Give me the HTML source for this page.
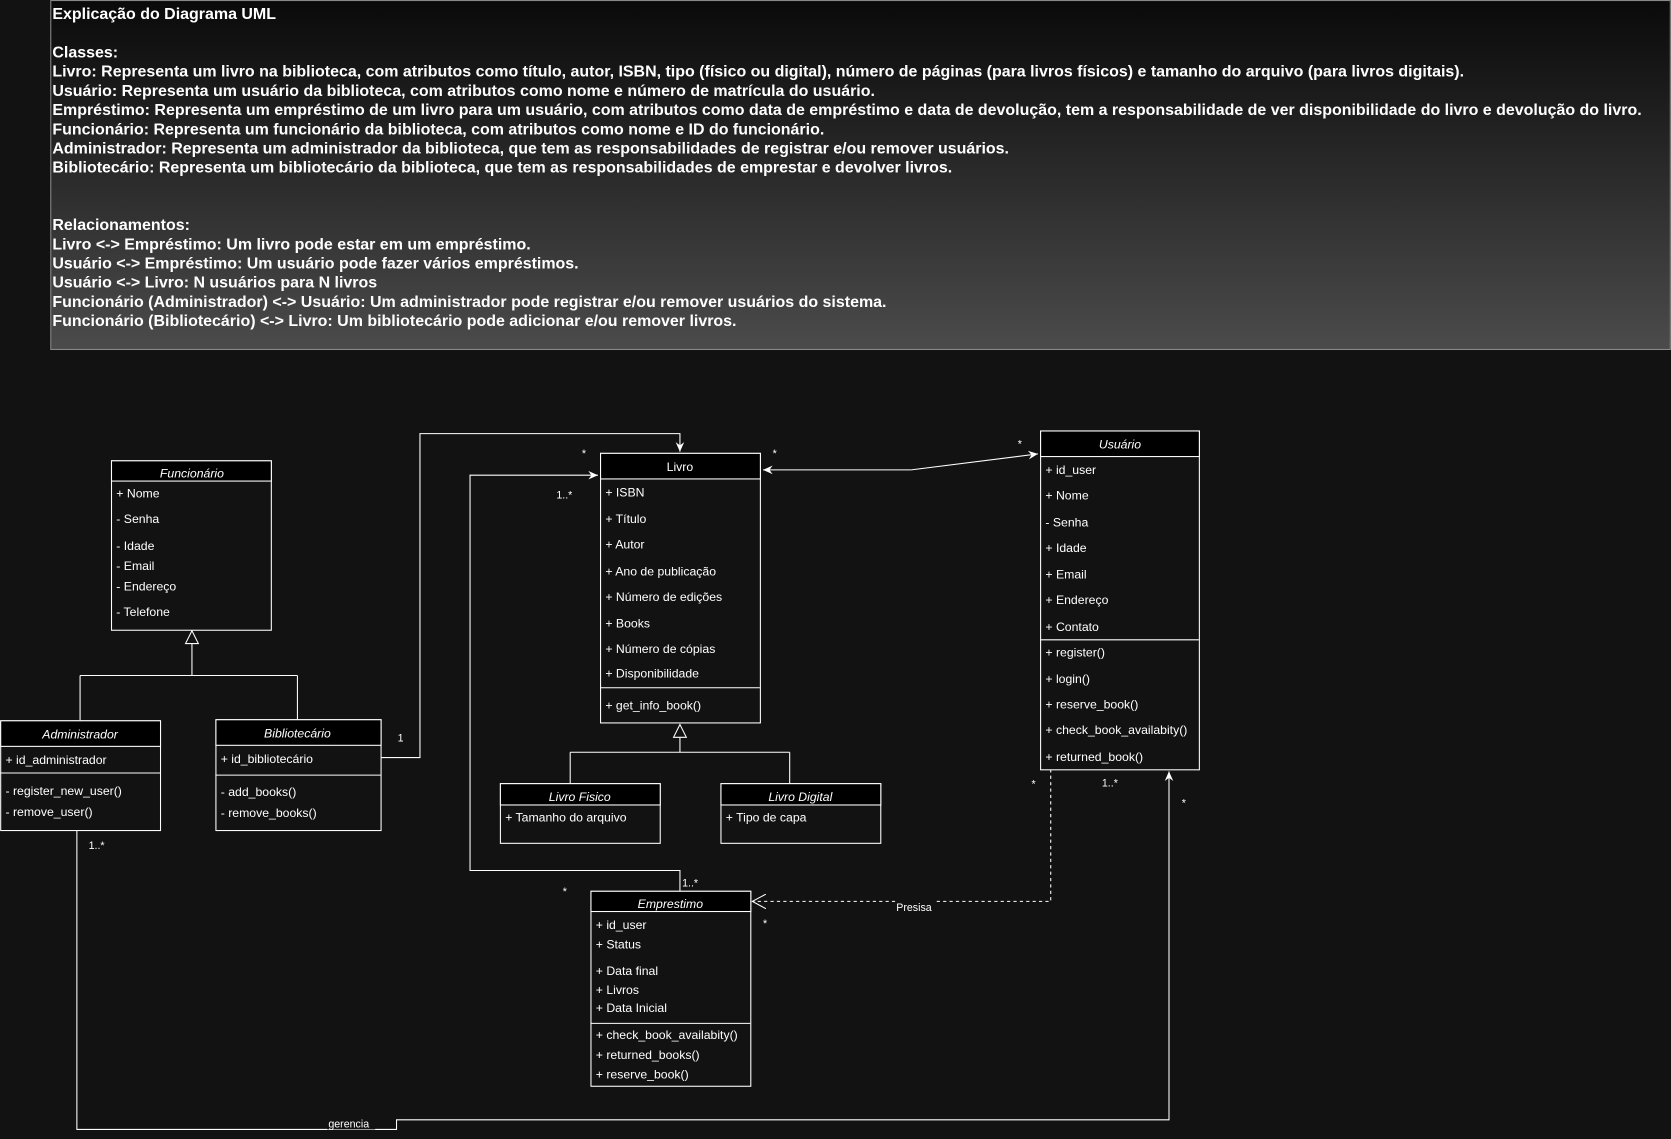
<!DOCTYPE html>
<html><head><meta charset="utf-8"><style>
html,body{margin:0;padding:0;background:#121212;}
svg{display:block}
text{font-family:"Liberation Sans",Arial,sans-serif;fill:#fff;}
.h{font-weight:bold;font-size:15px}
.i{font-size:11.5px}
.t{font-size:11.5px;text-anchor:middle}
.it{font-style:italic}
.s{font-size:10px}
</style></head><body>
<svg width="1671" height="1139" viewBox="0 0 1568 1069" xmlns="http://www.w3.org/2000/svg">
<defs>
<linearGradient id="g" x1="0" y1="0" x2="0" y2="1"><stop offset="0" stop-color="#0a0a0a"/><stop offset="1" stop-color="#4b4b4b"/></linearGradient>
<marker id="a" markerWidth="10" markerHeight="10" refX="9" refY="5" orient="auto" markerUnits="userSpaceOnUse"><path d="M0,1 L9,5 L0,9 L3,5 Z" fill="#fff"/></marker>
<marker id="o" markerWidth="14" markerHeight="14" refX="13" refY="7" orient="auto" markerUnits="userSpaceOnUse"><path d="M0,0 L13,7 L0,14" fill="none" stroke="#fff"/></marker>
</defs>
<rect width="1568" height="1069" fill="#121212"/>
<rect x="47.5" y="0.5" width="1520" height="327.5" fill="url(#g)" stroke="#888"/>
<g class="h">
<text x="49" y="18">Explicação do Diagrama UML</text>
<text x="49" y="54">Classes:</text>
<text x="49" y="72">Livro: Representa um livro na biblioteca, com atributos como título, autor, ISBN, tipo (físico ou digital), número de páginas (para livros físicos) e tamanho do arquivo (para livros digitais).</text>
<text x="49" y="90">Usuário: Representa um usuário da biblioteca, com atributos como nome e número de matrícula do usuário.</text>
<text x="49" y="108">Empréstimo: Representa um empréstimo de um livro para um usuário, com atributos como data de empréstimo e data de devolução, tem a responsabilidade de ver disponibilidade do livro e devolução do livro.</text>
<text x="49" y="126">Funcionário: Representa um funcionário da biblioteca, com atributos como nome e ID do funcionário.</text>
<text x="49" y="144">Administrador: Representa um administrador da biblioteca, que tem as responsabilidades de registrar e/ou remover usuários.</text>
<text x="49" y="162">Bibliotecário: Representa um bibliotecário da biblioteca, que tem as responsabilidades de emprestar e devolver livros.</text>
<text x="49" y="216">Relacionamentos:</text>
<text x="49" y="234">Livro &lt;-&gt; Empréstimo: Um livro pode estar em um empréstimo.</text>
<text x="49" y="252">Usuário &lt;-&gt; Empréstimo:  Um usuário pode fazer vários empréstimos.</text>
<text x="49" y="270">Usuário &lt;-&gt; Livro: N usuários para N livros</text>
<text x="49" y="288">Funcionário (Administrador) &lt;-&gt; Usuário: Um administrador pode registrar e/ou remover usuários do sistema.</text>
<text x="49" y="306">Funcionário (Bibliotecário) &lt;-&gt; Livro: Um bibliotecário pode adicionar e/ou remover livros.</text>
</g>

<g fill="none" stroke="#fff" stroke-width="1">
<!-- generalization Funcionario -->
<path d="M180,604 V634 M75,634 H279 M75,634 V676 M279,634 V675"/>
<path d="M180,592 L174,604 H186 Z" fill="#121212"/>
<!-- generalization Livro -->
<path d="M638,692 V706 M535,706 H741 M535,706 V735 M741,706 V735"/>
<path d="M638,680 L632,692 H644 Z" fill="#121212"/>
<!-- Bibliotecario -> Livro -->
<path d="M357,711 H394 V407 H638 V424" marker-end="url(#a)"/>
<!-- Emprestimo -> Livro -->
<path d="M638,836 V817 H441 V446 H561" marker-end="url(#a)"/>
<!-- Usuario <-> Livro -->
<path d="M855,441 H716" marker-end="url(#a)"/>
<path d="M855,441 L974,426" marker-end="url(#a)"/>
<!-- dashed -->
<path d="M986,722 V846 H706" stroke-dasharray="3,3" marker-end="url(#o)"/>
<!-- gerencia -->
<path d="M72,779 V1060 H372 V1051 H1097 V724" marker-end="url(#a)"/>
</g>

<!-- Classes -->
<g stroke="#fff" stroke-width="1">
<rect x="104.5" y="432.5" width="150" height="159" fill="#121212"/><rect x="104.5" y="432.5" width="150" height="19" fill="#000"/>
<rect x="0.5" y="676.5" width="150" height="103" fill="#121212"/><rect x="0.5" y="676.5" width="150" height="24" fill="#000"/><line x1="0" y1="725.5" x2="150" y2="725.5"/>
<rect x="202.5" y="675.5" width="155" height="104" fill="#121212"/><rect x="202.5" y="675.5" width="155" height="24" fill="#000"/><line x1="202" y1="727.5" x2="357" y2="727.5"/>
<rect x="563.5" y="425.5" width="150" height="253" fill="#121212"/><rect x="563.5" y="425.5" width="150" height="24" fill="#000"/><line x1="563" y1="645.5" x2="713" y2="645.5"/>
<rect x="469.5" y="735.5" width="150" height="56" fill="#121212"/><rect x="469.5" y="735.5" width="150" height="20" fill="#000"/>
<rect x="676.5" y="735.5" width="150" height="56" fill="#121212"/><rect x="676.5" y="735.5" width="150" height="20" fill="#000"/>
<rect x="976.5" y="404.5" width="149" height="318" fill="#121212"/><rect x="976.5" y="404.5" width="149" height="24" fill="#000"/><line x1="976" y1="600.5" x2="1125" y2="600.5"/>
<rect x="554.5" y="836.5" width="150" height="183" fill="#121212"/><rect x="554.5" y="836.5" width="150" height="19" fill="#000"/><line x1="554" y1="960.5" x2="704" y2="960.5"/>
</g>

<g class="t it">
<text x="180" y="448">Funcionário</text>
<text x="75" y="693">Administrador</text>
<text x="279" y="692">Bibliotecário</text>
<text x="544" y="752">Livro Fisico</text>
<text x="751" y="752">Livro Digital</text>
<text x="1051" y="421">Usuário</text>
<text x="629" y="852">Emprestimo</text>
</g>
<text class="t" x="638" y="442">Livro</text>

<g class="i">
<text x="109" y="467">+ Nome</text><text x="109" y="491">- Senha</text><text x="109" y="516">-  Idade</text><text x="109" y="535">- Email</text><text x="109" y="554">- Endereço</text><text x="109" y="578">- Telefone</text>
<text x="5" y="717">+ id_administrador</text><text x="5" y="746">- register_new_user()</text><text x="5" y="766">- remove_user()</text>
<text x="207" y="716">+ id_bibliotecário</text><text x="207" y="747">- add_books()</text><text x="207" y="767">- remove_books()</text>
<text x="568" y="466">+ ISBN</text><text x="568" y="491">+ Título</text><text x="568" y="515">+ Autor</text><text x="568" y="540">+ Ano de publicação</text><text x="568" y="564">+ Número de edições</text><text x="568" y="589">+ Books</text><text x="568" y="613">+ Número de cópias</text><text x="568" y="636">+ Disponibilidade</text><text x="568" y="666">+ get_info_book()</text>
<text x="474" y="771">+ Tamanho do arquivo</text>
<text x="681" y="771">+ Tipo de capa</text>
<text x="981" y="445">+ id_user</text><text x="981" y="469">+ Nome</text><text x="981" y="494">- Senha</text><text x="981" y="518">+ Idade</text><text x="981" y="543">+ Email</text><text x="981" y="567">+ Endereço</text><text x="981" y="592">+ Contato</text><text x="981" y="616">+ register()</text><text x="981" y="641">+ login()</text><text x="981" y="665">+ reserve_book()</text><text x="981" y="689">+ check_book_availabity()</text><text x="981" y="714">+ returned_book()</text>
<text x="559" y="872">+ id_user</text><text x="559" y="890">+ Status</text><text x="559" y="915">+ Data final</text><text x="559" y="933">+ Livros</text><text x="559" y="950">+ Data Inicial</text><text x="559" y="975">+ check_book_availabity()</text><text x="559" y="994">+ returned_books()</text><text x="559" y="1012">+ reserve_book()</text>
</g>

<g class="s">
<text x="373" y="696">1</text>
<text x="546" y="429">*</text>
<text x="522" y="468">1..*</text>
<text x="640" y="832">1..*</text>
<text x="528" y="840">*</text>
<text x="725" y="429">*</text>
<text x="955" y="420">*</text>
<text x="968" y="739">*</text>
<text x="1034" y="738">1..*</text>
<text x="716" y="870">*</text>
<text x="83" y="797">1..*</text>
<text x="1109" y="757">*</text>
</g>
<rect x="840" y="845" width="36" height="12" fill="#121212"/>
<text class="s" x="841" y="855">Presisa</text>
<rect x="307" y="1048" width="45" height="12" fill="#121212"/>
<text class="s" x="308" y="1058">gerencia</text>
</svg>
</body></html>
